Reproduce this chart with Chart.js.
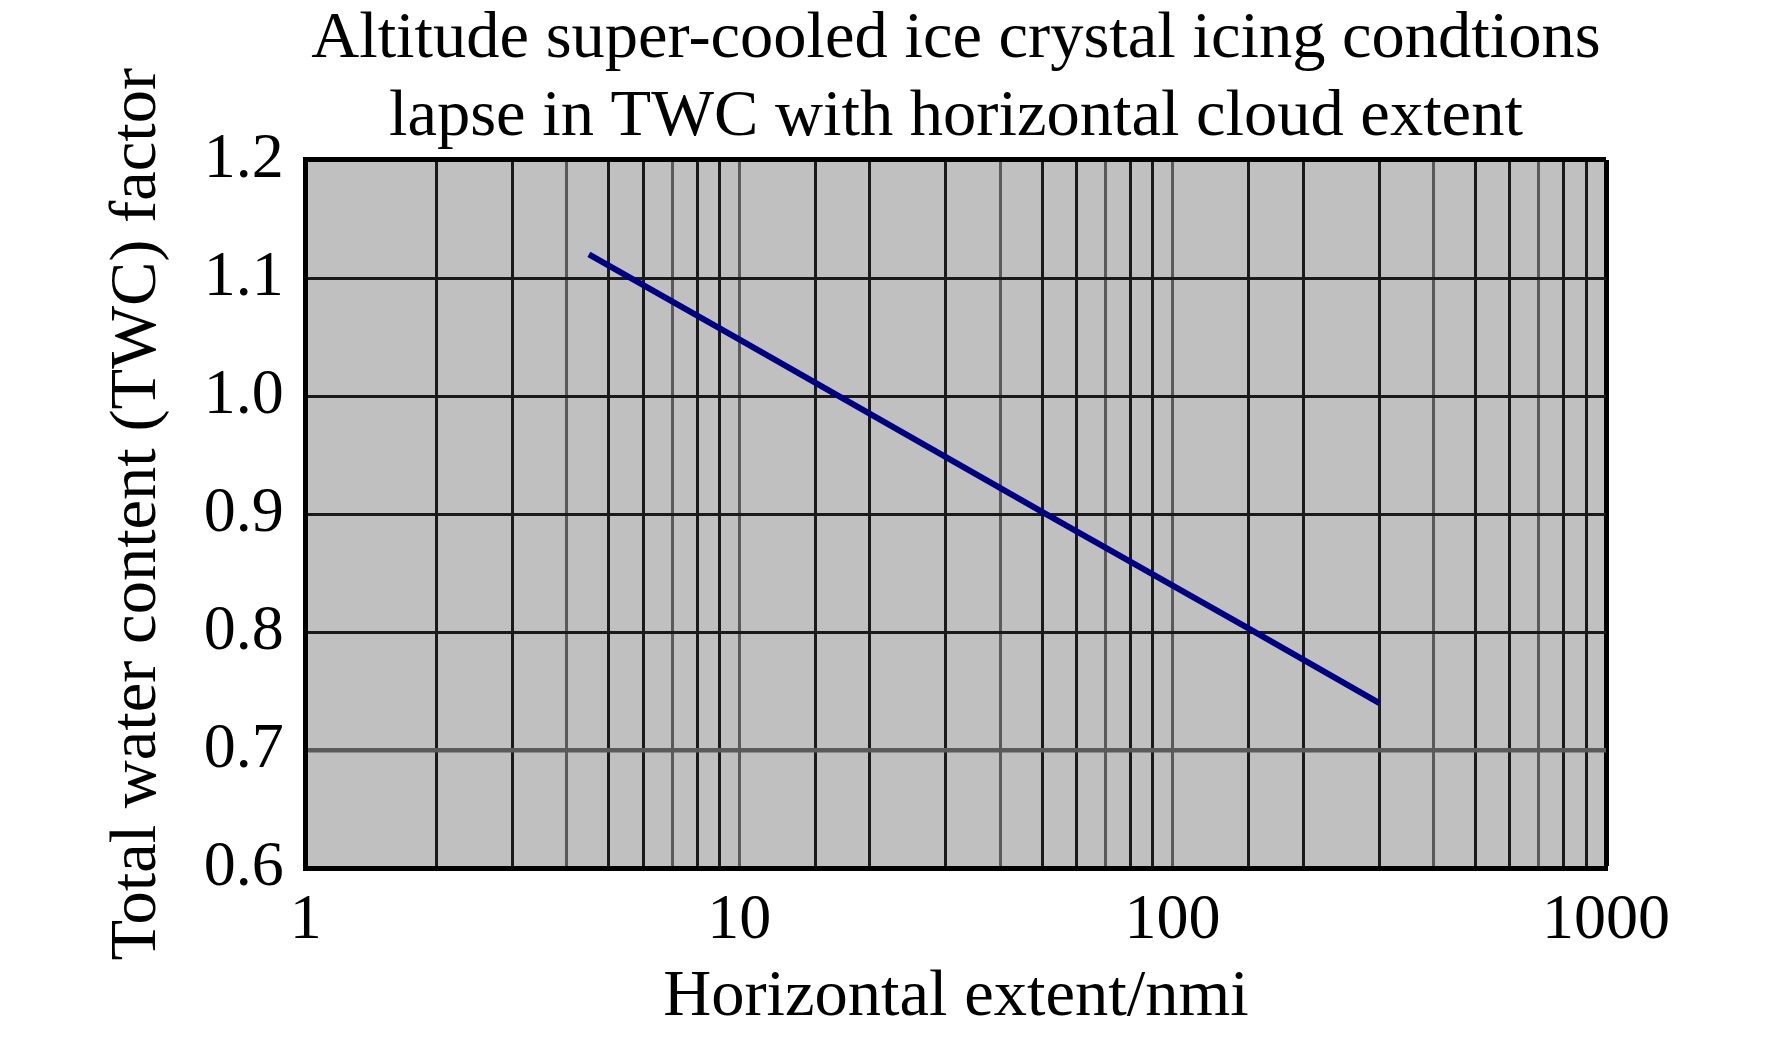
<!DOCTYPE html>
<html>
<head>
<meta charset="utf-8">
<script src="https://cdn.jsdelivr.net/npm/chart.js@4.4.1/dist/chart.umd.min.js"></script>
<style>
  html, body { margin: 0; padding: 0; background: #fff; }
  #wrap { width: 1772px; height: 1037px; }
</style>
</head>
<body>
<div id="wrap"><canvas id="lapseChart"></canvas></div>
<script>
// values
var extentNmi = [4.5, 10, 50, 150, 300];
var twcFactor = [1.12, 1.048, 0.902, 0.803, 0.74];
var xTickLabels = [1, 10, 100, 1000];
var yTickLabels = [0.6, 0.7, 0.8, 0.9, 1.0, 1.1, 1.2];

var serif = "'Liberation Serif', 'Times New Roman', serif";

var plotBackground = {
  id: 'plotBackground',
  beforeDraw: function (chart) {
    var a = chart.chartArea, c = chart.ctx;
    c.save();
    c.fillStyle = '#c0c0c0';
    c.fillRect(a.left, a.top, a.right - a.left, a.bottom - a.top);
    c.restore();
  }
};

function mantissa(v) {
  return Math.round(v / Math.pow(10, Math.floor(Math.log10(v) + 1e-9)));
}

var ctx = document.getElementById('lapseChart').getContext('2d');
var lapseChart = new Chart(ctx, {
  type: 'line',
  data: {
    datasets: [{
      label: 'TWC factor',
      data: extentNmi.map(function (x, i) { return { x: x, y: twcFactor[i] }; }),
      borderColor: '#000080',
      borderWidth: 6,
      pointRadius: 0,
      fill: false,
      tension: 0
    }]
  },
  options: {
    responsive: true,
    maintainAspectRatio: false,
    animation: false,
    layout: { padding: { left: 98, right: 166, top: 0, bottom: 0 } },
    plugins: {
      legend: { display: false },
      tooltip: { enabled: false },
      title: {
        display: true,
        fullSize: false,
        text: ['Altitude super-cooled ice crystal icing condtions',
               'lapse in TWC with horizontal cloud extent'],
        color: '#000',
        font: { family: serif, size: 66.5, weight: 'normal', lineHeight: 1.18 },
        padding: { top: 0, bottom: 3 }
      }
    },
    scales: {
      x: {
        type: 'logarithmic',
        min: 1,
        max: 1000,
        border: { display: true, color: '#000', width: 5 },
        grid: {
          drawTicks: false,
          color: function (c) {
            var v = c.tick.value;
            if (v >= 1000) return '#000';
            var m = mantissa(v);
            return (m === 4 || m === 7 || m === 1) ? '#5a5a5a' : '#1a1a1a';
          },
          lineWidth: function (c) { return c.tick.value >= 1000 ? 5 : 3; }
        },
        ticks: {
          autoSkip: false,
          maxRotation: 0,
          padding: 14,
          color: '#000',
          font: { family: serif, size: 64 },
          callback: function (v) {
            return xTickLabels.indexOf(v) >= 0 ? String(v) : '';
          }
        },
        title: {
          display: true,
          text: 'Horizontal extent/nmi',
          color: '#000',
          font: { family: serif, size: 66.5 },
          padding: { top: -16, bottom: 0 }
        }
      },
      y: {
        min: 0.6,
        max: 1.2,
        border: { display: true, color: '#000', width: 5 },
        grid: {
          drawTicks: false,
          color: function (c) {
            var v = Math.round(c.tick.value * 10) / 10;
            if (v === 1.2) return '#000';
            return v === 0.7 ? '#5a5a5a' : '#1a1a1a';
          },
          lineWidth: function (c) {
            var v = Math.round(c.tick.value * 10) / 10;
            if (v === 1.2) return 5;
            return v === 0.7 ? 4.5 : 3;
          }
        },
        ticks: {
          stepSize: 0.1,
          padding: 22,
          color: '#000',
          font: { family: serif, size: 64 },
          callback: function (v) {
            var r = Math.round(v * 10) / 10;
            return yTickLabels.indexOf(r) >= 0 ? r.toFixed(1) : '';
          }
        },
        title: {
          display: true,
          text: 'Total water content (TWC) factor',
          color: '#000',
          font: { family: serif, size: 66.5 },
          padding: { top: 0, bottom: 4 }
        }
      }
    }
  },
  plugins: [plotBackground]
});
</script>
</body>
</html>
